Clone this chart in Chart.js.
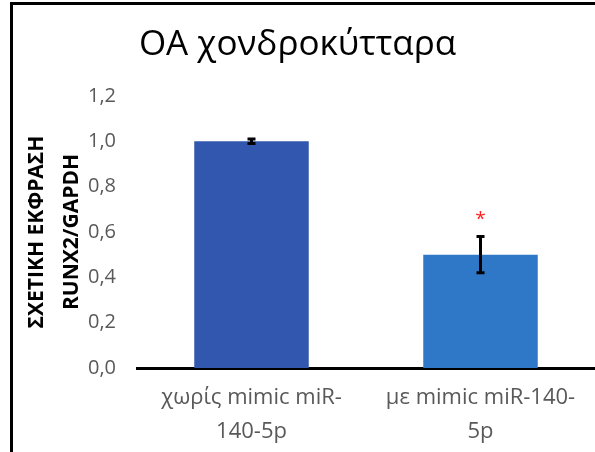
<html>
<head>
<title>OA chondrocytes RUNX2</title>
<style>
    body { margin: 0; background: #ffffff; }
    #wrap { position: relative; width: 595px; height: 452px; }
    #frame { position: absolute; left: 10px; top: 2px; right: 0; bottom: 0;
             border-left: 3px solid #000; border-top: 3px solid #000; pointer-events: none; }
</style>
</head>
<body>
<script src="https://cdn.jsdelivr.net/npm/chart.js"></script>

<div id="wrap">
    <canvas id="myChart" width="595" height="452"></canvas>
    <div id="frame"></div>
</div>

<script>

const categories = [["χωρίς mimic miR-", "140-5p"], ["με mimic miR-140-", "5p"]];
const values = [1.0, 0.50];
const errors = [0.01, 0.08];
const marks = ["", "*"];
const barColors = ["#3257ae", "#2f77c7"];
const yTicks = [0, 0.2, 0.4, 0.6, 0.8, 1.0, 1.2];

const FONT = "'Open Sans', 'Noto Sans', sans-serif";

// error bars + significance star, positioned through the scales
const errorBarPlugin = {
    id: "errorBars",
    afterDatasetsDraw(chart) {
        const ctx = chart.ctx;
        const y = chart.scales.y;
        const meta = chart.getDatasetMeta(0);
        ctx.save();
        for (let i = 0; i < values.length; i++) {
            const cx = meta.data[i].x;
            const top = y.getPixelForValue(values[i] + errors[i]);
            const bot = y.getPixelForValue(values[i] - errors[i]);
            ctx.strokeStyle = "#000";
            ctx.lineWidth = 3;
            ctx.beginPath();
            ctx.moveTo(cx, top); ctx.lineTo(cx, bot);
            ctx.moveTo(cx - 4, top); ctx.lineTo(cx + 4, top);
            ctx.moveTo(cx - 4, bot); ctx.lineTo(cx + 4, bot);
            ctx.stroke();
            if (marks[i]) {
                ctx.fillStyle = "#ff2020";
                ctx.font = "19px " + FONT;
                ctx.textAlign = "center";
                ctx.textBaseline = "middle";
                ctx.fillText(marks[i], cx, top - 17);
            }
        }
        ctx.restore();
    }
};

new Chart("myChart", {
    type: "bar",
    data: {
        labels: categories,
        datasets: [{
            data: values,
            backgroundColor: barColors,
            borderWidth: 0,
            barPercentage: 0.5,
            categoryPercentage: 1.0
        }]
    },
    options: {
        responsive: false,
        animation: false,
        layout: { padding: 0 },
        plugins: {
            legend: { display: false },
            tooltip: { enabled: false },
            title: {
                display: true,
                text: "ΟΑ χονδροκύτταρα",
                color: "#000",
                font: { family: FONT, size: 35, weight: "normal" },
                padding: { top: 24, bottom: 30 }
            }
        },
        scales: {
            x: {
                afterFit: (scale) => { scale.height = 84; },
                grid: { display: false, drawTicks: false },
                border: { display: true, color: "#000", width: 3 },
                ticks: {
                    color: "#595959",
                    font: { family: FONT, size: 22, lineHeight: 1.55 },
                    padding: 13,
                    maxRotation: 0
                }
            },
            y: {
                min: 0,
                max: 1.2,
                afterFit: (scale) => { scale.width = 137; },
                afterBuildTicks: (axis) => { axis.ticks = yTicks.map(v => ({ value: v })); },
                grid: { display: false, drawTicks: false },
                border: { display: false },
                ticks: {
                    color: "#595959",
                    font: { family: FONT, size: 20 },
                    padding: 21,
                    callback: (v) => v.toFixed(1).replace(".", ",")
                },
                title: {
                    display: true,
                    text: ["ΣΧΕΤΙΚΗ ΕΚΦΡΑΣΗ", "RUNX2/GAPDH"],
                    color: "#000",
                    font: { family: FONT, size: 21, weight: "bold", lineHeight: 1.67 },
                    padding: { top: 19, bottom: 0 }
                }
            }
        }
    },
    plugins: [errorBarPlugin]
});

</script>
</body>
</html>
